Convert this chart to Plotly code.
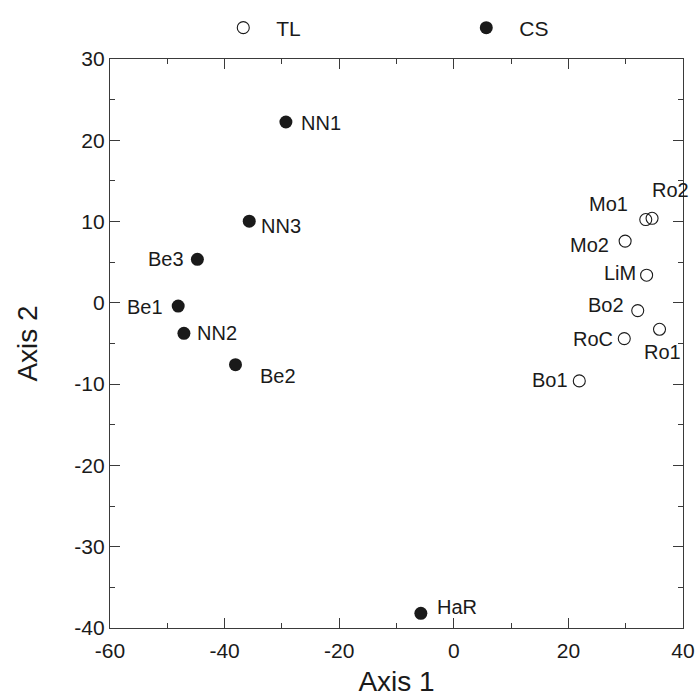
import plotly.graph_objects as go

# ---- data ----
tl_names = ["Mo1", "Ro2", "Mo2", "LiM", "Bo2", "RoC", "Ro1", "Bo1"]
tl_axis1 = [33.5, 34.6, 29.9, 33.65, 32.1, 29.75, 35.9, 21.9]
tl_axis2 = [10.25, 10.4, 7.6, 3.4, -0.95, -4.4, -3.25, -9.6]

cs_names = ["NN1", "NN3", "Be3", "Be1", "NN2", "Be2", "HaR"]
cs_axis1 = [-29.3, -35.7, -44.75, -48.1, -47.1, -38.1, -5.75]
cs_axis2 = [22.25, 10.05, 5.35, -0.4, -3.75, -7.6, -38.2]

x_ticks = [-60, -40, -20, 0, 20, 40]
y_ticks = [-40, -30, -20, -10, 0, 10, 20, 30]

# ---- label placement (style: anchor, pixel shift x, pixel shift y) ----
tl_label_style = [("right", -16, 16), ("left", -2, 28), ("right", -14, -4),
                  ("right", -9, 2), ("right", -12, 6), ("right", -9, 0),
                  ("center", 3, -23), ("right", -9, 1)]
cs_label_style = [("left", 13, -1), ("left", 10, -5), ("right", -11, 0),
                  ("right", -13, -1), ("left", 11, 0), ("left", 23, -11),
                  ("left", 14, 6)]

FONT = "Liberation Sans, Arial, Helvetica, sans-serif"
INK = "#1a1a1a"
AXIS = "#3a3a3a"

fig = go.Figure()
fig.add_trace(go.Scatter(
    x=tl_axis1, y=tl_axis2, mode="markers", name="TL",
    marker=dict(symbol="circle-open", size=12, color=INK, line=dict(width=1.1)),
    cliponaxis=False,
))
fig.add_trace(go.Scatter(
    x=cs_axis1, y=cs_axis2, mode="markers", name="CS",
    marker=dict(symbol="circle", size=13, color=INK),
    cliponaxis=False,
))

for names, xs, ys, styles in [(tl_names, tl_axis1, tl_axis2, tl_label_style),
                              (cs_names, cs_axis1, cs_axis2, cs_label_style)]:
    for n, xv, yv, (anc, dx, dy) in zip(names, xs, ys, styles):
        fig.add_annotation(
            x=xv, y=yv, xref="x", yref="y", text=n, showarrow=False,
            xanchor=anc, yanchor="middle", xshift=dx, yshift=dy,
            font=dict(family=FONT, size=20, color=INK),
        )

axis_common = dict(
    showgrid=False, zeroline=False, showline=True, linecolor=AXIS, linewidth=1.2,
    mirror="ticks", ticks="inside", ticklen=10, tickwidth=1, tickcolor=AXIS,
    tickfont=dict(family=FONT, size=21, color=INK),
)

fig.update_xaxes(
    range=[-60, 40], tickvals=x_ticks, ticktext=[str(v) for v in x_ticks],
    minor=dict(dtick=10, tick0=0, ticks="inside", ticklen=5, tickcolor=AXIS),
    ticklabelstandoff=4,
    title=dict(text="Axis 1", font=dict(family=FONT, size=28, color=INK), standoff=10),
    **axis_common,
)
fig.update_yaxes(
    range=[-40, 30], tickvals=y_ticks, ticktext=[str(v) for v in y_ticks],
    minor=dict(dtick=5, tick0=0, ticks="inside", ticklen=5, tickcolor=AXIS),
    title=dict(text="Axis 2", font=dict(family=FONT, size=28, color=INK), standoff=28),
    **axis_common,
)

fig.update_layout(
    width=697, height=697,
    margin=dict(l=110, r=14, t=59, b=69, autoexpand=False),
    paper_bgcolor="white", plot_bgcolor="white",
    font=dict(family=FONT, color=INK),
    showlegend=True,
    legend=dict(
        orientation="h", x=0.175, xanchor="left", y=1.0545, yanchor="middle",
        entrywidth=172, entrywidthmode="pixels",
        font=dict(family=FONT, size=21, color=INK),
        bgcolor="rgba(0,0,0,0)", itemwidth=56,
    ),
)

fig.write_html(
    "out.html",
    config={"displayModeBar": False},
    post_script="document.body.style.margin='0';document.body.style.overflow='hidden';",
)
